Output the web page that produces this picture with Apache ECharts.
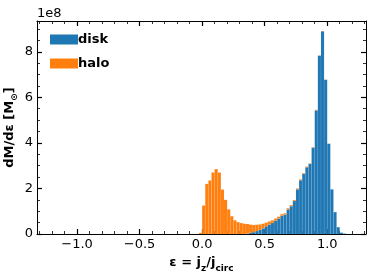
<!DOCTYPE html>
<html>
<head>
<meta charset="utf-8">
<script src="https://cdn.jsdelivr.net/npm/echarts@6/dist/echarts.min.js"></script>
<style>
html,body{margin:0;padding:0;background:#fff;}
#chart{width:374px;height:278px;}
</style>
</head>
<body>
<div id="chart"></div>
<script>
// ---- data (values in units of 1e8 Msun) ----
const BIN_WIDTH = 0.025;
const binLeftEdges = [
  -0.025, 0.000, 0.025, 0.050, 0.075, 0.100, 0.125, 0.150, 0.175, 0.200,
   0.225, 0.250, 0.275, 0.300, 0.325, 0.350, 0.375, 0.400, 0.425, 0.450,
   0.475, 0.500, 0.525, 0.550, 0.575, 0.600, 0.625, 0.650, 0.675, 0.700,
   0.725, 0.750, 0.775, 0.800, 0.825, 0.850, 0.875, 0.900, 0.925, 0.950,
   0.975, 1.000, 1.025, 1.050, 1.075, 1.100, 1.125
];
const diskValues = [
  0, 0, 0, 0, 0, 0, 0, 0, 0, 0,
  0, 0, 0, 0, 0, 0.02, 0.05, 0.08, 0.13, 0.18,
  0.25, 0.34, 0.42, 0.49, 0.59, 0.68, 0.80, 0.85, 1.08, 1.22,
  1.45, 1.96, 2.36, 2.64, 2.93, 3.08, 3.79, 5.43, 7.83, 8.90,
  6.77, 3.96, 1.96, 0.96, 0.30, 0.06, 0.02
];
const haloValues = [
  0.05, 1.25, 2.20, 2.35, 2.70, 2.85, 2.70, 1.95, 1.50, 1.08,
  0.78, 0.60, 0.52, 0.48, 0.45, 0.42, 0.36, 0.32, 0.28, 0.24,
  0.20, 0.16, 0.13, 0.11, 0.09, 0.08, 0.07, 0.06, 0.05, 0.05,
  0.04, 0.04, 0.04, 0.03, 0.03, 0.02, 0.02, 0.02, 0.01, 0.01,
  0.01, 0.01, 0, 0, 0, 0, 0
];
const seriesNames = ['disk', 'halo'];
const xMajorTicks = [-1.0, -0.5, 0.0, 0.5, 1.0];
const xMinorTicks = [-1.3, -1.2, -1.1, -0.9, -0.8, -0.7, -0.6, -0.4, -0.3, -0.2, -0.1,
  0.1, 0.2, 0.3, 0.4, 0.6, 0.7, 0.8, 0.9, 1.1, 1.2, 1.3];
const yMajorTicks = [0, 2, 4, 6, 8];
const yMinorTicks = [0.5, 1, 1.5, 2.5, 3, 3.5, 4.5, 5, 5.5, 6.5, 7, 7.5, 8.5, 9];
const X_MIN = -1.32, X_MAX = 1.31, Y_MIN = 0, Y_MAX = 9.35;

// ---- chart ----
const FONT = 'DejaVu Sans';
const BLUE = '#1f77b4', ORANGE = '#ff7f0e';
const chart = echarts.init(document.getElementById('chart'), null, {renderer: 'canvas'});

function fmtTick(v) {
  return v.toFixed(1).replace('-', '\u2212');
}
function xAxisDef(position, ticks, len, width, showLine, showLabel) {
  return {
    type: 'value', gridIndex: 0, position: position, min: X_MIN, max: X_MAX,
    axisLine: {show: showLine, onZero: false, lineStyle: {color: '#000', width: 1}},
    axisTick: {show: true, inside: true, length: len, customValues: ticks,
      lineStyle: {color: '#000', width: width}},
    axisLabel: {show: showLabel, customValues: ticks, formatter: fmtTick, margin: 4,
      fontFamily: FONT, fontSize: 13, color: '#000'},
    splitLine: {show: false}
  };
}
function yAxisDef(position, ticks, len, width, showLine, showLabel) {
  return {
    type: 'value', gridIndex: 0, position: position, min: Y_MIN, max: Y_MAX,
    axisLine: {show: showLine, onZero: false, lineStyle: {color: '#000', width: 1}},
    axisTick: {show: true, inside: true, length: len, customValues: ticks,
      lineStyle: {color: '#000', width: width}},
    axisLabel: {show: showLabel, customValues: ticks, formatter: v => String(v), margin: 4,
      fontFamily: FONT, fontSize: 13, color: '#000'},
    splitLine: {show: false}
  };
}

const xMain = xAxisDef('bottom', xMajorTicks, 5, 1.2, true, true);
xMain.name = '{b|\u03b5 = j}{s|z}{b|/j}{s|circ}';
xMain.nameLocation = 'middle';
xMain.nameGap = 22;
xMain.nameMoveOverlap = false;
xMain.nameTextStyle = {
  fontFamily: FONT, color: '#000',
  rich: {
    b: {fontFamily: FONT, fontSize: 13, fontWeight: 'bold', color: '#000', verticalAlign: 'top'},
    s: {fontFamily: FONT, fontSize: 9, fontWeight: 'bold', color: '#000', verticalAlign: 'bottom', lineHeight: 17}
  }
};
const yMain = yAxisDef('left', yMajorTicks, 5, 1.2, true, true);
yMain.name = '{b|dM/d\u03b5 [M}{s|\u2299}{b|]}';
yMain.nameLocation = 'middle';
yMain.nameRotate = 90;
yMain.nameGap = 18;
yMain.nameMoveOverlap = false;
yMain.nameTextStyle = {
  fontFamily: FONT, color: '#000',
  rich: {
    b: {fontFamily: FONT, fontSize: 13, fontWeight: 'bold', color: '#000', verticalAlign: 'top'},
    s: {fontFamily: FONT, fontSize: 9, fontWeight: 'bold', color: '#000', verticalAlign: 'bottom', lineHeight: 16}
  }
};

function histData(lower, upper) {
  const out = [];
  for (let i = 0; i < binLeftEdges.length; i++) {
    const y0 = lower ? lower[i] : 0;
    const h = upper[i];
    if (h > 0) out.push([binLeftEdges[i], binLeftEdges[i] + BIN_WIDTH, y0, y0 + h]);
  }
  return out;
}
function renderBin(params, api) {
  const p0 = api.coord([api.value(0), api.value(2)]);
  const p1 = api.coord([api.value(1), api.value(3)]);
  return {
    type: 'rect',
    shape: {x: p0[0], y: p1[1], width: p1[0] - p0[0], height: p0[1] - p1[1]},
    style: api.style({stroke: 'rgba(255,255,255,0.18)', lineWidth: 0.4})
  };
}

chart.setOption({
  animation: false,
  backgroundColor: '#fff',
  grid: {left: 37, top: 21, right: 8, bottom: 44, containLabel: false, outerBoundsMode: 'none'},
  xAxis: [
    xMain,
    xAxisDef('bottom', xMinorTicks, 3, 0.8, false, false),
    xAxisDef('top', xMajorTicks, 5, 1.2, true, false),
    xAxisDef('top', xMinorTicks, 3, 0.8, false, false)
  ],
  yAxis: [
    yMain,
    yAxisDef('left', yMinorTicks, 3, 0.8, false, false),
    yAxisDef('right', yMajorTicks, 5, 1.2, true, false),
    yAxisDef('right', yMinorTicks, 3, 0.8, false, false)
  ],
  legend: {
    data: seriesNames,
    orient: 'vertical', left: 50, top: 33, padding: 0,
    itemWidth: 28, itemHeight: 10, itemGap: 11,
    icon: 'rect',
    textStyle: {fontFamily: FONT, fontSize: 13, fontWeight: 'bold', color: '#000', padding: [0, 0, 0, -5]}
  },
  graphic: [{
    type: 'text', left: 37, top: 7,
    style: {text: '1e8', font: '13px "DejaVu Sans"', fill: '#000'}
  }],
  series: [
    {
      name: seriesNames[0], type: 'custom', xAxisIndex: 0, yAxisIndex: 0,
      renderItem: renderBin, encode: {x: [0, 1], y: [2, 3]},
      itemStyle: {color: BLUE},
      data: histData(null, diskValues)
    },
    {
      name: seriesNames[1], type: 'custom', xAxisIndex: 0, yAxisIndex: 0,
      renderItem: renderBin, encode: {x: [0, 1], y: [2, 3]},
      itemStyle: {color: ORANGE},
      data: histData(diskValues, haloValues)
    }
  ]
});
</script>
</body>
</html>
